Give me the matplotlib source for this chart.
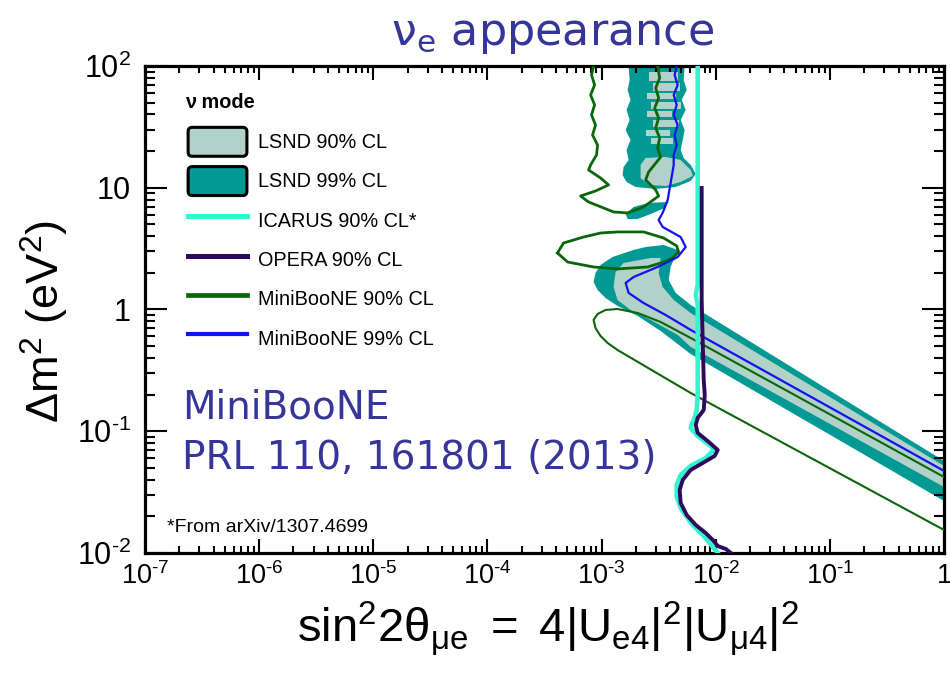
import matplotlib
matplotlib.use("Agg")
import matplotlib.pyplot as plt
from matplotlib.patches import Patch, FancyBboxPatch
from matplotlib.lines import Line2D
from matplotlib.legend_handler import HandlerPatch
from matplotlib.ticker import LogLocator, NullFormatter
import numpy as np

plt.rcParams["font.family"] = ["Liberation Sans", "DejaVu Sans"]
plt.rcParams["mathtext.fontset"] = "custom"
plt.rcParams["mathtext.rm"] = "Liberation Sans"
plt.rcParams["mathtext.it"] = "Liberation Sans:italic"
plt.rcParams["mathtext.bf"] = "Liberation Sans:bold"
plt.rcParams["mathtext.sf"] = "DejaVu Sans"

# contours, as (log10 sin^2 2theta, log10 dm^2 [eV^2])
lsnd99_upper = [(-2.763, 2.0), (-2.272, 2.0), (-2.281, 1.885), (-2.254, 1.803), (-2.298, 1.721),
                (-2.263, 1.639), (-2.307, 1.556), (-2.272, 1.474), (-2.289, 1.392), (-2.307, 1.310),
                (-2.281, 1.244), (-2.219, 1.187), (-2.175, 1.113), (-2.219, 1.055), (-2.351, 1.006),
                (-2.526, 0.990), (-2.702, 1.006), (-2.781, 1.047), (-2.816, 1.105), (-2.807, 1.170),
                (-2.763, 1.228), (-2.781, 1.310), (-2.746, 1.392), (-2.789, 1.474), (-2.754, 1.556),
                (-2.781, 1.639), (-2.746, 1.721), (-2.772, 1.803), (-2.754, 1.885)]
lsnd99_island = [(-2.789, 0.784), (-2.719, 0.842), (-2.588, 0.875), (-2.412, 0.883), (-2.447, 0.834),
                 (-2.570, 0.784), (-2.684, 0.743), (-2.772, 0.743)]
lsnd99_band = [(0.0, -1.244), (-2.219, 0.037), (-2.351, 0.136), (-2.412, 0.242), (-2.395, 0.349),
               (-2.333, 0.489), (-2.456, 0.530), (-2.614, 0.513), (-2.719, 0.489), (-2.904, 0.431),
               (-3.009, 0.366), (-3.053, 0.300), (-3.070, 0.226), (-3.035, 0.160), (-2.965, 0.094),
               (-2.860, 0.029), (-2.684, -0.053), (-2.482, -0.177), (-2.219, -0.366), (0.0, -1.573)]
lsnd90_band = [(0.0, -1.285), (-2.219, -0.029), (-2.368, 0.078), (-2.465, 0.185), (-2.500, 0.300),
               (-2.482, 0.423), (-2.570, 0.423), (-2.807, 0.382), (-2.877, 0.308), (-2.895, 0.185),
               (-2.860, 0.078), (-2.746, -0.004), (-2.570, -0.086), (-2.333, -0.209), (-2.219, -0.308),
               (0.0, -1.458)]
lsnd90_blob = [(-2.614, 1.244), (-2.439, 1.253), (-2.307, 1.228), (-2.219, 1.146), (-2.202, 1.097),
               (-2.307, 1.047), (-2.439, 1.014), (-2.588, 1.023), (-2.658, 1.080), (-2.658, 1.187)]
# light 90% streaks inside the high-dm2 strip
streak_top = [1.950, 1.860, 1.782, 1.704, 1.630, 1.556, 1.474, 1.408]
streak_bot = [1.880, 1.795, 1.728, 1.650, 1.580, 1.500, 1.425, 1.360]
streak_left = [-2.588, -2.553, -2.600, -2.570, -2.605, -2.553, -2.614, -2.570]
streak_right = [-2.330, -2.315, -2.351, -2.300, -2.380, -2.325, -2.400, -2.370]

mb90_a = [(-3.070, 2.0), (-3.088, 1.926), (-3.061, 1.844), (-3.096, 1.762), (-3.061, 1.680),
          (-3.088, 1.598), (-3.053, 1.515), (-3.079, 1.433), (-3.035, 1.351), (-3.044, 1.269),
          (-3.096, 1.187), (-3.114, 1.146), (-3.009, 1.080), (-2.939, 1.023), (-3.053, 0.973),
          (-3.184, 0.932), (-3.114, 0.883), (-2.895, 0.801), (-2.772, 0.793), (-2.632, 0.842),
          (-2.500, 0.932), (-2.526, 0.982), (-2.614, 1.064), (-2.588, 1.129), (-2.482, 1.253),
          (-2.509, 1.326), (-2.491, 1.409), (-2.526, 1.491), (-2.500, 1.573), (-2.535, 1.655),
          (-2.500, 1.737), (-2.526, 1.819), (-2.491, 1.901), (-2.509, 2.0)]
mb90_b = [(-3.386, 0.464), (-3.333, 0.546), (-3.158, 0.595), (-3.009, 0.628), (-2.860, 0.637),
          (-2.632, 0.637), (-2.456, 0.587), (-2.342, 0.522), (-2.325, 0.472), (-2.377, 0.423),
          (-2.456, 0.390), (-2.596, 0.349), (-2.860, 0.333), (-3.070, 0.349), (-3.298, 0.390),
          (-3.386, 0.464)]
mb90_c = [(0.0, -1.376), (-2.219, -0.234), (-2.482, -0.103), (-2.684, -0.029), (-2.860, 0.004),
          (-2.965, -0.004), (-3.035, -0.037), (-3.070, -0.086), (-3.053, -0.152), (-3.009, -0.218),
          (-2.947, -0.275), (-2.860, -0.333), (-2.219, -0.686), (0.0, -1.811)]
mb99 = [(-2.342, 2.0), (-2.360, 1.926), (-2.333, 1.844), (-2.368, 1.762), (-2.342, 1.680),
        (-2.368, 1.598), (-2.333, 1.515), (-2.360, 1.433), (-2.342, 1.351), (-2.368, 1.269),
        (-2.368, 1.187), (-2.395, 1.039), (-2.421, 0.899), (-2.465, 0.793), (-2.500, 0.735),
        (-2.465, 0.678), (-2.307, 0.595), (-2.263, 0.513), (-2.333, 0.431), (-2.509, 0.349),
        (-2.719, 0.267), (-2.789, 0.218), (-2.763, 0.136), (-2.632, 0.053), (-2.439, -0.045),
        (-2.219, -0.168), (0.0, -1.326)]
icarus = [(-2.158, 2.0), (-2.158, 0.201), (-2.175, 0.119), (-2.158, 0.037), (-2.158, -0.702),
          (-2.167, -0.825), (-2.184, -0.891), (-2.211, -0.940), (-2.219, -0.973), (-2.158, -1.039),
          (-2.044, -1.121), (-2.018, -1.154), (-2.088, -1.220), (-2.219, -1.285), (-2.307, -1.359),
          (-2.342, -1.441), (-2.342, -1.540), (-2.298, -1.647), (-2.202, -1.770), (-2.088, -1.877),
          (-2.018, -1.959), (-1.982, -2.0)]
opera = [(-2.123, 0.998), (-2.123, 0.078), (-2.114, -0.251), (-2.105, -0.579), (-2.096, -0.702),
         (-2.105, -0.825), (-2.158, -0.891), (-2.175, -0.949), (-2.158, -1.014), (-2.061, -1.088),
         (-1.982, -1.154), (-2.009, -1.203), (-2.114, -1.261), (-2.219, -1.318), (-2.289, -1.400),
         (-2.316, -1.483), (-2.307, -1.589), (-2.254, -1.688), (-2.175, -1.770), (-2.088, -1.836),
         (-2.026, -1.893), (-1.982, -1.943), (-1.912, -1.967), (-1.868, -2.0)]

xticks = [1e-7, 1e-6, 1e-5, 1e-4, 1e-3, 1e-2, 1e-1, 1]
xtick_labels = [r"$\mathregular{10^{‐7}}$", r"$\mathregular{10^{‐6}}$", r"$\mathregular{10^{‐5}}$",
                r"$\mathregular{10^{‐4}}$", r"$\mathregular{10^{‐3}}$", r"$\mathregular{10^{‐2}}$",
                r"$\mathregular{10^{‐1}}$", "1"]
yticks = [1e-2, 1e-1, 1, 10, 100]
ytick_labels = [r"$\mathregular{10^{‐2}}$", r"$\mathregular{10^{‐1}}$", "1", "10", r"$\mathregular{10^{2}}$"]

legend_title = "\u03bd mode"
legend_labels = ["LSND 90% CL", "LSND 99% CL", "ICARUS 90% CL*", "OPERA 90% CL",
                 "MiniBooNE 90% CL", "MiniBooNE 99% CL"]

c_lsnd90 = "#b2d1c9"
c_lsnd99 = "#009994"
c_icarus = "#33f5d0"
c_opera = "#2e0a5c"
c_mb90 = "#0b660b"
c_mb99 = "#1212f0"
c_text = "#35359a"


def xy(points):
    a = np.array(points)
    return 10 ** a[:, 0], 10 ** a[:, 1]


def rounded_box(legend, orig_handle, xdescent, ydescent, width, height, fontsize):
    return FancyBboxPatch((-xdescent, -ydescent), width, height,
                          boxstyle="round,pad=0,rounding_size=3")


fig = plt.figure(figsize=(9.5, 6.76), dpi=100)
ax = fig.add_axes([0.1526, 0.1820, 0.8411, 0.7204])
ax.set_xscale("log")
ax.set_yscale("log")
ax.set_xlim(1e-7, 1)
ax.set_ylim(1e-2, 1e2)

for poly in [lsnd99_upper, lsnd99_island, lsnd99_band]:
    ax.fill(*xy(poly), color=c_lsnd99, lw=0, zorder=1)
for poly in [lsnd90_band, lsnd90_blob]:
    ax.fill(*xy(poly), color=c_lsnd90, lw=0, zorder=2)
for t, b, l, r in zip(streak_top, streak_bot, streak_left, streak_right):
    ax.fill(*xy([(l, t), (r, t), (r, b), (l, b)]), color=c_lsnd90, lw=0, zorder=2)

ax.plot(*xy(mb90_a), color=c_mb90, lw=2.0, zorder=3)
ax.plot(*xy(mb90_b), color=c_mb90, lw=2.0, zorder=3)
ax.plot(*xy(mb90_c), color=c_mb90, lw=1.5, zorder=3)
ax.plot(*xy(mb99), color=c_mb99, lw=1.6, zorder=4)
ax.plot(*xy(icarus), color=c_icarus, lw=3.3, zorder=5)
ax.plot(*xy(opera), color=c_opera, lw=2.8, zorder=6)

ax.set_xticks(xticks)
ax.set_xticklabels(xtick_labels, fontsize=19.5)
ax.set_yticks(yticks)
ax.set_yticklabels(ytick_labels, fontsize=22)
ax.xaxis.set_minor_locator(LogLocator(base=10, subs=np.arange(2, 10)))
ax.yaxis.set_minor_locator(LogLocator(base=10, subs=np.arange(2, 10)))
ax.xaxis.set_minor_formatter(NullFormatter())
ax.yaxis.set_minor_formatter(NullFormatter())
ax.tick_params(which="both", direction="in", top=True, right=True, color="black")
ax.tick_params(axis="x", which="major", length=10, width=1.5, pad=7)
ax.tick_params(axis="x", which="minor", length=5, width=1.5)
ax.tick_params(axis="y", which="major", length=16, width=1.5, pad=10)
ax.tick_params(axis="y", which="minor", length=7, width=1.5)
for s in ax.spines.values():
    s.set_linewidth(2.3)

handles = [Patch(facecolor=c_lsnd90, edgecolor="black", lw=2.2),
           Patch(facecolor=c_lsnd99, edgecolor="black", lw=2.2),
           Line2D([], [], color=c_icarus, lw=3.6),
           Line2D([], [], color=c_opera, lw=3.6),
           Line2D([], [], color=c_mb90, lw=3.4),
           Line2D([], [], color=c_mb99, lw=3.0)]
ax.legend(handles, legend_labels, loc="upper left", bbox_to_anchor=(0.054, 0.874),
          frameon=False, fontsize=14.3, handlelength=2.96, handleheight=1.865,
          labelspacing=0.52, handletextpad=0.55, borderpad=0, borderaxespad=0,
          handler_map={Patch: HandlerPatch(patch_func=rounded_box)})
ax.text(0.050, 0.924, legend_title, transform=ax.transAxes, fontsize=14.3,
        weight="bold", va="center")

ax.text(0.046, 0.277, "MiniBooNE", transform=ax.transAxes, fontsize=28,
        family="DejaVu Sans", color=c_text, va="baseline")
ax.text(0.046, 0.172, "PRL 110, 161801 (2013)", transform=ax.transAxes, fontsize=28,
        family="DejaVu Sans", color=c_text, va="baseline")
ax.text(0.0275, 0.043, "*From arXiv/1307.4699", transform=ax.transAxes, fontsize=14,
        va="baseline")

fig.text(0.582, 0.934, r"$\mathsf{\nu_{e}}$ appearance", family="DejaVu Sans",
         fontsize=32, color=c_text, ha="center", va="baseline")
fig.text(0.047, 0.524, r"$\mathregular{\Delta m^{2}\ (eV^{2})}$", fontsize=32.5,
         rotation=90, ha="center", va="center")
fig.text(0.577, 0.05, r"$\mathregular{sin^{2}2\theta_{\mu e}\ =\ 4|U_{e4}|^{2}|U_{\mu 4}|^{2}}$",
         fontsize=34, ha="center", va="baseline")

fig.savefig("out.png", dpi=100)
